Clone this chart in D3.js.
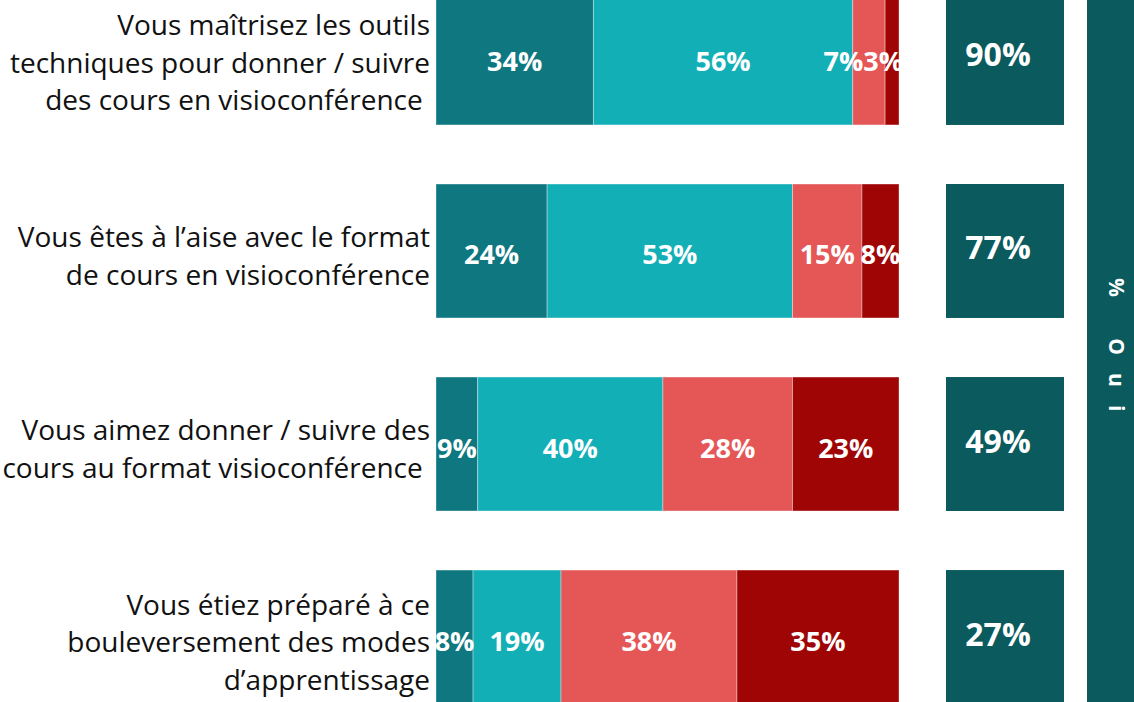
<!DOCTYPE html>
<html>
<head>
<meta charset="utf-8">
<script src="https://cdn.jsdelivr.net/npm/d3@7"></script>
<style>
  html, body { margin: 0; padding: 0; background: #fff; }
  svg { display: block; }
</style>
</head>
<body>
<div id="chart"></div>
<script>
// Données
const questions = [
    ["Vous maîtrisez les outils", "techniques pour donner / suivre", "des cours en visioconférence "],
    ["Vous êtes à l’aise avec le format", "de cours en visioconférence"],
    ["Vous aimez donner / suivre des", "cours au format visioconférence "],
    ["Vous étiez préparé à ce", "bouleversement des modes", "d’apprentissage"]
];
const toutAFait = [34, 24, 9, 8];
const plutotOui = [56, 53, 40, 19];
const plutotNon = [7, 15, 28, 38];
const pasDuTout = [3, 8, 23, 35];
const pctOui = [90, 77, 49, 27];
const seriesColors = ["#0E7780", "#13AFB7", "#E55757", "#A00505"];

document.addEventListener("DOMContentLoaded", function () {
    const width = 1134, height = 702;

    const svg = d3.select("#chart")
        .append("svg")
        .attr("width", width)
        .attr("height", height);

    const rows = questions.map((q, i) => ({
        id: i,
        lines: q,
        values: [toutAFait[i], plutotOui[i], plutotNon[i], pasDuTout[i]],
        oui: pctOui[i]
    }));

    const y = d3.scaleBand()
        .domain(rows.map(d => d.id))
        .range([-9, 704])
        .paddingInner(0.306)
        .paddingOuter(0);

    const x = d3.scaleLinear()
        .domain([0, 100])
        .range([436, 899]);

    // segments empilés
    rows.forEach(r => {
        let acc = 0;
        r.segs = r.values.map((v, k) => {
            const s = {x0: acc, x1: acc + v, v: v, k: k, row: r.id};
            acc += v;
            return s;
        });
    });

    const rowG = svg.selectAll(".row")
        .data(rows)
        .enter()
        .append("g")
        .attr("class", "row");

    rowG.selectAll("rect")
        .data(d => d.segs)
        .enter()
        .append("rect")
        .attr("x", d => x(d.x0))
        .attr("y", d => y(d.row))
        .attr("width", d => x(d.x1) - x(d.x0))
        .attr("height", y.bandwidth())
        .attr("fill", d => seriesColors[d.k])
        .attr("stroke", "rgba(255,255,255,0.35)")
        .attr("stroke-width", 1);

    rowG.selectAll(".val")
        .data(d => d.segs)
        .enter()
        .append("text")
        .attr("class", "val")
        .attr("x", d => (x(d.x0) + x(d.x1)) / 2)
        .attr("y", d => y(d.row) + y.bandwidth() / 2 + 3)
        .attr("dominant-baseline", "central")
        .attr("text-anchor", "middle")
        .style("font-family", "'Open Sans', 'Noto Sans', sans-serif")
        .style("font-weight", "bold")
        .style("font-size", "27px")
        .style("fill", "#fff")
        .text(d => d.v + "%");

    // pousse les étiquettes trop serrées vers la gauche
    rowG.each(function () {
        const labels = d3.select(this).selectAll(".val").nodes();
        let limit = x(100) + 4;
        for (let i = labels.length - 1; i >= 0; i--) {
            const w = labels[i].getComputedTextLength();
            let cx = +labels[i].getAttribute("x");
            if (cx + w / 2 > limit) {
                cx = limit - w / 2;
                labels[i].setAttribute("x", cx);
            }
            limit = cx - w / 2;
        }
    });

    // libellés des questions
    rowG.append("text")
        .attr("text-anchor", "end")
        .style("font-family", "'Open Sans', 'Noto Sans', sans-serif")
        .style("font-size", "28px")
        .style("fill", "#111")
        .style("white-space", "pre")
        .selectAll("tspan")
        .data(d => d.lines.map((t, i) => ({t: t, i: i, n: d.lines.length, row: d.id})))
        .enter()
        .append("tspan")
        .attr("x", 430)
        .attr("y", d => y(d.row) + y.bandwidth() / 2 + 15 + (d.i - (d.n - 1) / 2) * 37.5)
        .text(d => d.t);

    // colonne % Oui
    rowG.append("rect")
        .attr("x", 946)
        .attr("y", d => y(d.id))
        .attr("width", 118)
        .attr("height", y.bandwidth())
        .attr("fill", "#0B5A5E");

    rowG.append("text")
        .attr("x", 998)
        .attr("y", d => y(d.id) + y.bandwidth() / 2 - 4)
        .attr("dominant-baseline", "central")
        .attr("text-anchor", "middle")
        .style("font-family", "'Open Sans', 'Noto Sans', sans-serif")
        .style("font-weight", "bold")
        .style("font-size", "32px")
        .style("fill", "#fff")
        .text(d => d.oui + "%");

    svg.append("rect")
        .attr("x", 1087)
        .attr("y", 0)
        .attr("width", 47)
        .attr("height", height)
        .attr("fill", "#0B5A5E");

    svg.append("text")
        .attr("transform", "translate(1109,278) rotate(90)")
        .attr("text-anchor", "start")
        .style("font-family", "'Open Sans', 'Noto Sans', sans-serif")
        .style("font-weight", "bold")
        .style("font-size", "21px")
        .style("letter-spacing", "18px")
        .style("fill", "#fff")
        .text("% Oui");
});
</script>
</body>
</html>
